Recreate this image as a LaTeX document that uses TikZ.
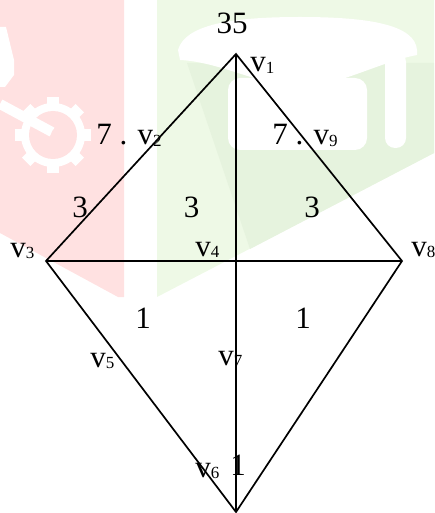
\documentclass[tikz,border=0pt]{standalone}
\usepackage{fontspec}
\setmainfont{Liberation Serif}
\usetikzlibrary{positioning}

\definecolor{wmpink}{HTML}{FFE1E1}
\definecolor{wmgreen}{HTML}{EEF9E6}
\definecolor{wmshade}{HTML}{E6F3DE}

\newcommand{\vsub}[1]{v\raisebox{-0.9pt}{\fontsize{8.5}{8.5}\selectfont #1}}

\begin{document}
\begin{tikzpicture}[x=0.5pt, y=-0.5pt,
    edge/.style={draw=black, line width=0.85pt},
    lbl/.style={inner sep=0pt, font=\fontsize{15.5}{16}\selectfont, anchor=base west},
    wgt/.style={inner sep=0pt, font=\fontsize{15.5}{16}\selectfont, anchor=base}
]
\useasboundingbox (0,0) rectangle (434,513);

% faint logo behind the graph
\fill[wmpink] (0,0) -- (124,0) -- (124,297) -- (118,297) -- (0,233) -- cycle;
\fill[wmgreen] (157,0) -- (434,0) -- (434,153) -- (157,297) -- cycle;
\fill[wmshade] (187,63) -- (434,63) -- (434,153) -- (250,249) -- cycle;
\fill[white, rounded corners=6pt] (228,78) rectangle (367,150);
\fill[white, rounded corners=5pt] (385,52) rectangle (406,148);
\fill[white] (178,50) .. controls (185,25) and (230,17) .. (300,17)
    .. controls (370,17) and (415,25) .. (417,50) -- (417,55)
    .. controls (380,62) and (340,85) .. (300,88)
    .. controls (260,85) and (220,62) .. (180,60) -- cycle;
\fill[white] (53,135) circle (32);
\foreach \a in {0,45,...,315}
  \fill[white, rotate around={\a:(53,135)}] (80,129) rectangle (91,141);
\fill[wmpink] (53,135) circle (24);
\draw[white, line width=5pt] (0,104) -- (52,132);
\fill[wmpink] (55,133) circle (3.5);
\fill[white] (0,27) -- (6,27) -- (14,60) -- (14,75) -- (5,87) -- (0,87) -- cycle;

% graph
\coordinate (vtop) at (236,54);
\coordinate (vleft) at (46,261);
\coordinate (vright) at (402,261);
\coordinate (vbot) at (236,512);
\coordinate (vmid) at (236,261);

\draw[edge] (vleft) -- (vtop) -- (vright) -- (vbot) -- cycle;
\draw[edge] (vleft) -- (vmid) -- (vright);
\draw[edge] (vtop) -- (vmid) -- (vbot);

% labels
\node[wgt, anchor=south, above=10pt of vtop, xshift=-2pt] (top35) {35};
\node[lbl] (l1) at (250,72) {\vsub{1}};
\node[lbl] (l2) at (96,145) {7 . \vsub{2}};
\node[lbl] (l9) at (272,145) {7 . \vsub{9}};
\node[wgt] (w3a) at (80,218) {3};
\node[wgt] (w3b) at (191.5,218) {3};
\node[wgt] (w3c) at (312,218) {3};
\node[lbl] (l3) at (10,257) {\vsub{3}};
\node[lbl] (l4) at (195,256) {\vsub{4}};
\node[lbl] (l8) at (411,256) {\vsub{8}};
\node[wgt] (w1a) at (143,328) {1};
\node[wgt] (w1b) at (303,328) {1};
\node[lbl] (l5) at (90,367) {\vsub{5}};
\node[lbl] (l7) at (218,365) {\vsub{7}};
\node[lbl] (l6) at (195,477) {\vsub{6}};
\node[wgt] (w1c) at (238,475) {1};

\end{tikzpicture}
\end{document}
